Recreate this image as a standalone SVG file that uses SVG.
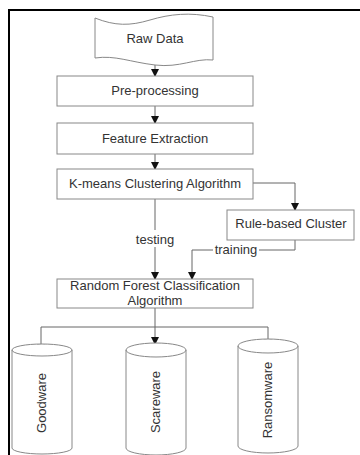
<svg xmlns="http://www.w3.org/2000/svg" width="360" height="455" viewBox="0 0 360 455">
<defs>
<marker id="ah" markerWidth="8" markerHeight="8" refX="7" refY="4" orient="auto" markerUnits="userSpaceOnUse">
<path d="M0,0 L8,4 L0,8 Z" fill="#111"/>
</marker>
<style>
.box{fill:#fff;stroke:#888;stroke-width:1}
.t{font-family:"Liberation Sans",Arial,sans-serif;font-size:13px;fill:#333;text-anchor:middle}
.c{fill:none;stroke:#666;stroke-width:1}
.a{marker-end:url(#ah)}
.lbl{fill:#fff}
</style>
</defs>
<rect width="360" height="455" fill="#fff"/>
<path d="M9,455 L9,10 L360,10" fill="none" stroke="#000" stroke-width="2"/>

<g id="connectors">
<line class="c a" x1="155" y1="62" x2="155" y2="76"/>
<line class="c a" x1="155" y1="106" x2="155" y2="123"/>
<line class="c a" x1="155" y1="154" x2="155" y2="169"/>
<polyline class="c a" points="253,183 295,183 295,210"/>
<line class="c a" x1="155" y1="199" x2="155" y2="279"/>
<polyline class="c a" points="295,240 295,250 192,250 192,279"/>
<line class="c" x1="155" y1="308" x2="155" y2="327"/>
<line class="c" x1="41" y1="327" x2="268" y2="327"/>
<line class="c a" x1="41" y1="327" x2="41" y2="351"/>
<line class="c a" x1="155" y1="327" x2="155" y2="344"/>
<line class="c a" x1="268" y1="327" x2="268" y2="346"/>
<rect class="lbl" x="134" y="230" width="42" height="17"/>
<text class="t" x="155" y="244">testing</text>
<rect class="lbl" x="213" y="242" width="46" height="15"/>
<text class="t" x="236" y="254">training</text>
</g>

<g id="raw-data">
<path class="box" d="M95,18 C115,26 130,26 150,20 C170,14 190,12 213,17 L213,60 C195,58 180,68 155,65 C130,62 115,55 95,58 Z"/>
<text class="t" x="155" y="43">Raw Data</text>
</g>
<g id="pre-processing">
<rect class="box" x="57" y="76" width="196" height="30"/>
<text class="t" x="155" y="95">Pre-processing</text>
</g>
<g id="feature-extraction">
<rect class="box" x="57" y="123" width="196" height="31"/>
<text class="t" x="155" y="143">Feature Extraction</text>
</g>
<g id="kmeans">
<rect class="box" x="57" y="169" width="196" height="30"/>
<text class="t" x="155" y="188">K-means Clustering Algorithm</text>
</g>
<g id="rule-based">
<rect class="box" x="227" y="210" width="127" height="30"/>
<text class="t" x="291" y="228">Rule-based Cluster</text>
</g>
<g id="random-forest">
<rect class="box" x="57" y="279" width="196" height="29"/>
<text class="t" x="155" y="290">Random Forest Classification</text>
<text class="t" x="155" y="305">Algorithm</text>
</g>

<g id="goodware">
<path class="box" d="M12,350 L12,448 A30,6 0 0 0 72,448 L72,350 A30,6 0 0 0 12,350 Z M12,350 A30,6 0 0 0 72,350"/>
<text class="t" transform="translate(46,403) rotate(-90)">Goodware</text>
</g>
<g id="scareware">
<path class="box" d="M126,350 L126,448 A30,7 0 0 0 186,448 L186,350 A30,7 0 0 0 126,350 Z M126,350 A30,7 0 0 0 186,350"/>
<text class="t" transform="translate(160,402) rotate(-90)">Scareware</text>
</g>
<g id="ransomware">
<path class="box" d="M238,346 L238,446 A30,7 0 0 0 298,446 L298,346 A30,7 0 0 0 238,346 Z M238,346 A30,7 0 0 0 298,346"/>
<text class="t" transform="translate(272,400) rotate(-90)">Ransomware</text>
</g>
</svg>
